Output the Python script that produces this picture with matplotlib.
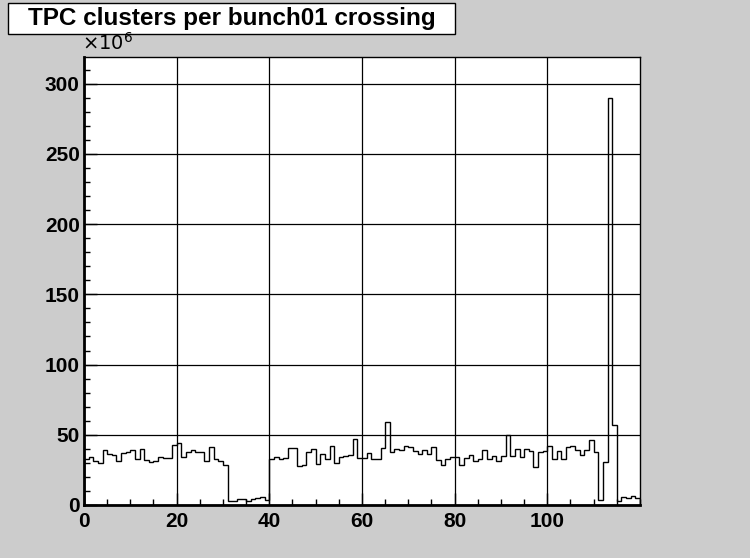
import numpy as np
import matplotlib
matplotlib.use('Agg')
import matplotlib.pyplot as plt
from matplotlib.patches import Rectangle
from matplotlib.ticker import MultipleLocator

plt.rcParams['font.family'] = ['Liberation Sans', 'DejaVu Sans']

# TPC clusters per bunch crossing (units of 1e6), one value per bin 0..119
title = "TPC clusters per bunch01 crossing"
bin_edges = np.arange(0, 121)
clusters = [
    32.5, 34.3, 31.5, 29.6, 39.5, 36.0, 35.5, 31.0, 37.0, 37.6,
    39.0, 33.0, 40.0, 32.0, 30.5, 31.5, 34.0, 33.6, 33.6, 42.6,
    43.8, 34.0, 38.0, 39.0, 38.0, 38.0, 31.0, 41.4, 33.0, 31.0,
    28.5, 2.5, 3.0, 4.0, 4.2, 2.8, 4.5, 4.8, 6.0, 3.8,
    32.4, 34.3, 33.1, 33.8, 40.8, 40.8, 27.7, 28.4, 38.0, 40.2,
    29.3, 36.0, 33.1, 42.1, 30.0, 34.5, 35.0, 35.5, 47.0, 33.4,
    33.6, 37.1, 32.5, 32.5, 40.8, 59.1, 37.6, 40.2, 39.5, 42.1,
    41.4, 38.3, 36.2, 39.5, 36.2, 41.4, 32.0, 28.4, 33.1, 34.3,
    34.3, 28.4, 33.8, 35.5, 31.2, 33.1, 39.5, 32.6, 35.0, 31.5,
    35.0, 49.7, 35.0, 40.2, 34.3, 40.2, 38.3, 26.7, 37.4, 38.3,
    42.2, 33.1, 38.3, 32.4, 41.4, 42.1, 39.0, 35.5, 39.0, 46.1,
    37.9, 3.5, 30.8, 290.0, 56.8, 2.8, 5.9, 4.7, 6.4, 5.2,
]
x_ticks = [0, 20, 40, 60, 80, 100]
y_ticks = [0, 50, 100, 150, 200, 250, 300]

fig = plt.figure(figsize=(7.5, 5.58), dpi=100, facecolor='#cccccc')
ax = fig.add_axes([0.112, 0.095, 0.7413, 0.8028])
ax.set_facecolor('white')

ax.stairs(clusters, bin_edges, color='black', linewidth=1.0, zorder=3)

ax.set_xlim(0, 120)
ax.set_ylim(0, max(clusters) * 1.1)
ax.set_xticks(x_ticks)
ax.set_yticks(y_ticks)
ax.xaxis.set_minor_locator(MultipleLocator(5))
ax.yaxis.set_minor_locator(MultipleLocator(10))
ax.grid(True, which='major', color='black', linewidth=0.9)
ax.set_axisbelow(True)

ax.tick_params(which='both', direction='in', top=False, right=False)
ax.tick_params(which='major', length=9, width=1, labelsize=15)
ax.tick_params(axis='x', which='major', pad=5)
ax.tick_params(axis='y', which='major', pad=3)
ax.tick_params(which='minor', length=4, width=1)
for lab in ax.get_xticklabels() + ax.get_yticklabels():
    lab.set_fontweight('bold')

ax.spines['left'].set_linewidth(2)
ax.spines['bottom'].set_linewidth(2)
ax.spines['top'].set_linewidth(1)
ax.spines['right'].set_linewidth(1)

fig.text(0.109, 0.903, r'$\times10^{6}$', fontsize=14, ha='left', va='bottom')

# title box
fig.patches.append(Rectangle((0.0107, 0.939), 0.596, 0.0556, transform=fig.transFigure,
                             facecolor='white', edgecolor='black', linewidth=1))
fig.text(0.3087, 0.9665, title, fontsize=17.5, fontweight='bold',
         ha='center', va='center')

fig.savefig('out.png', dpi=100, facecolor=fig.get_facecolor())
